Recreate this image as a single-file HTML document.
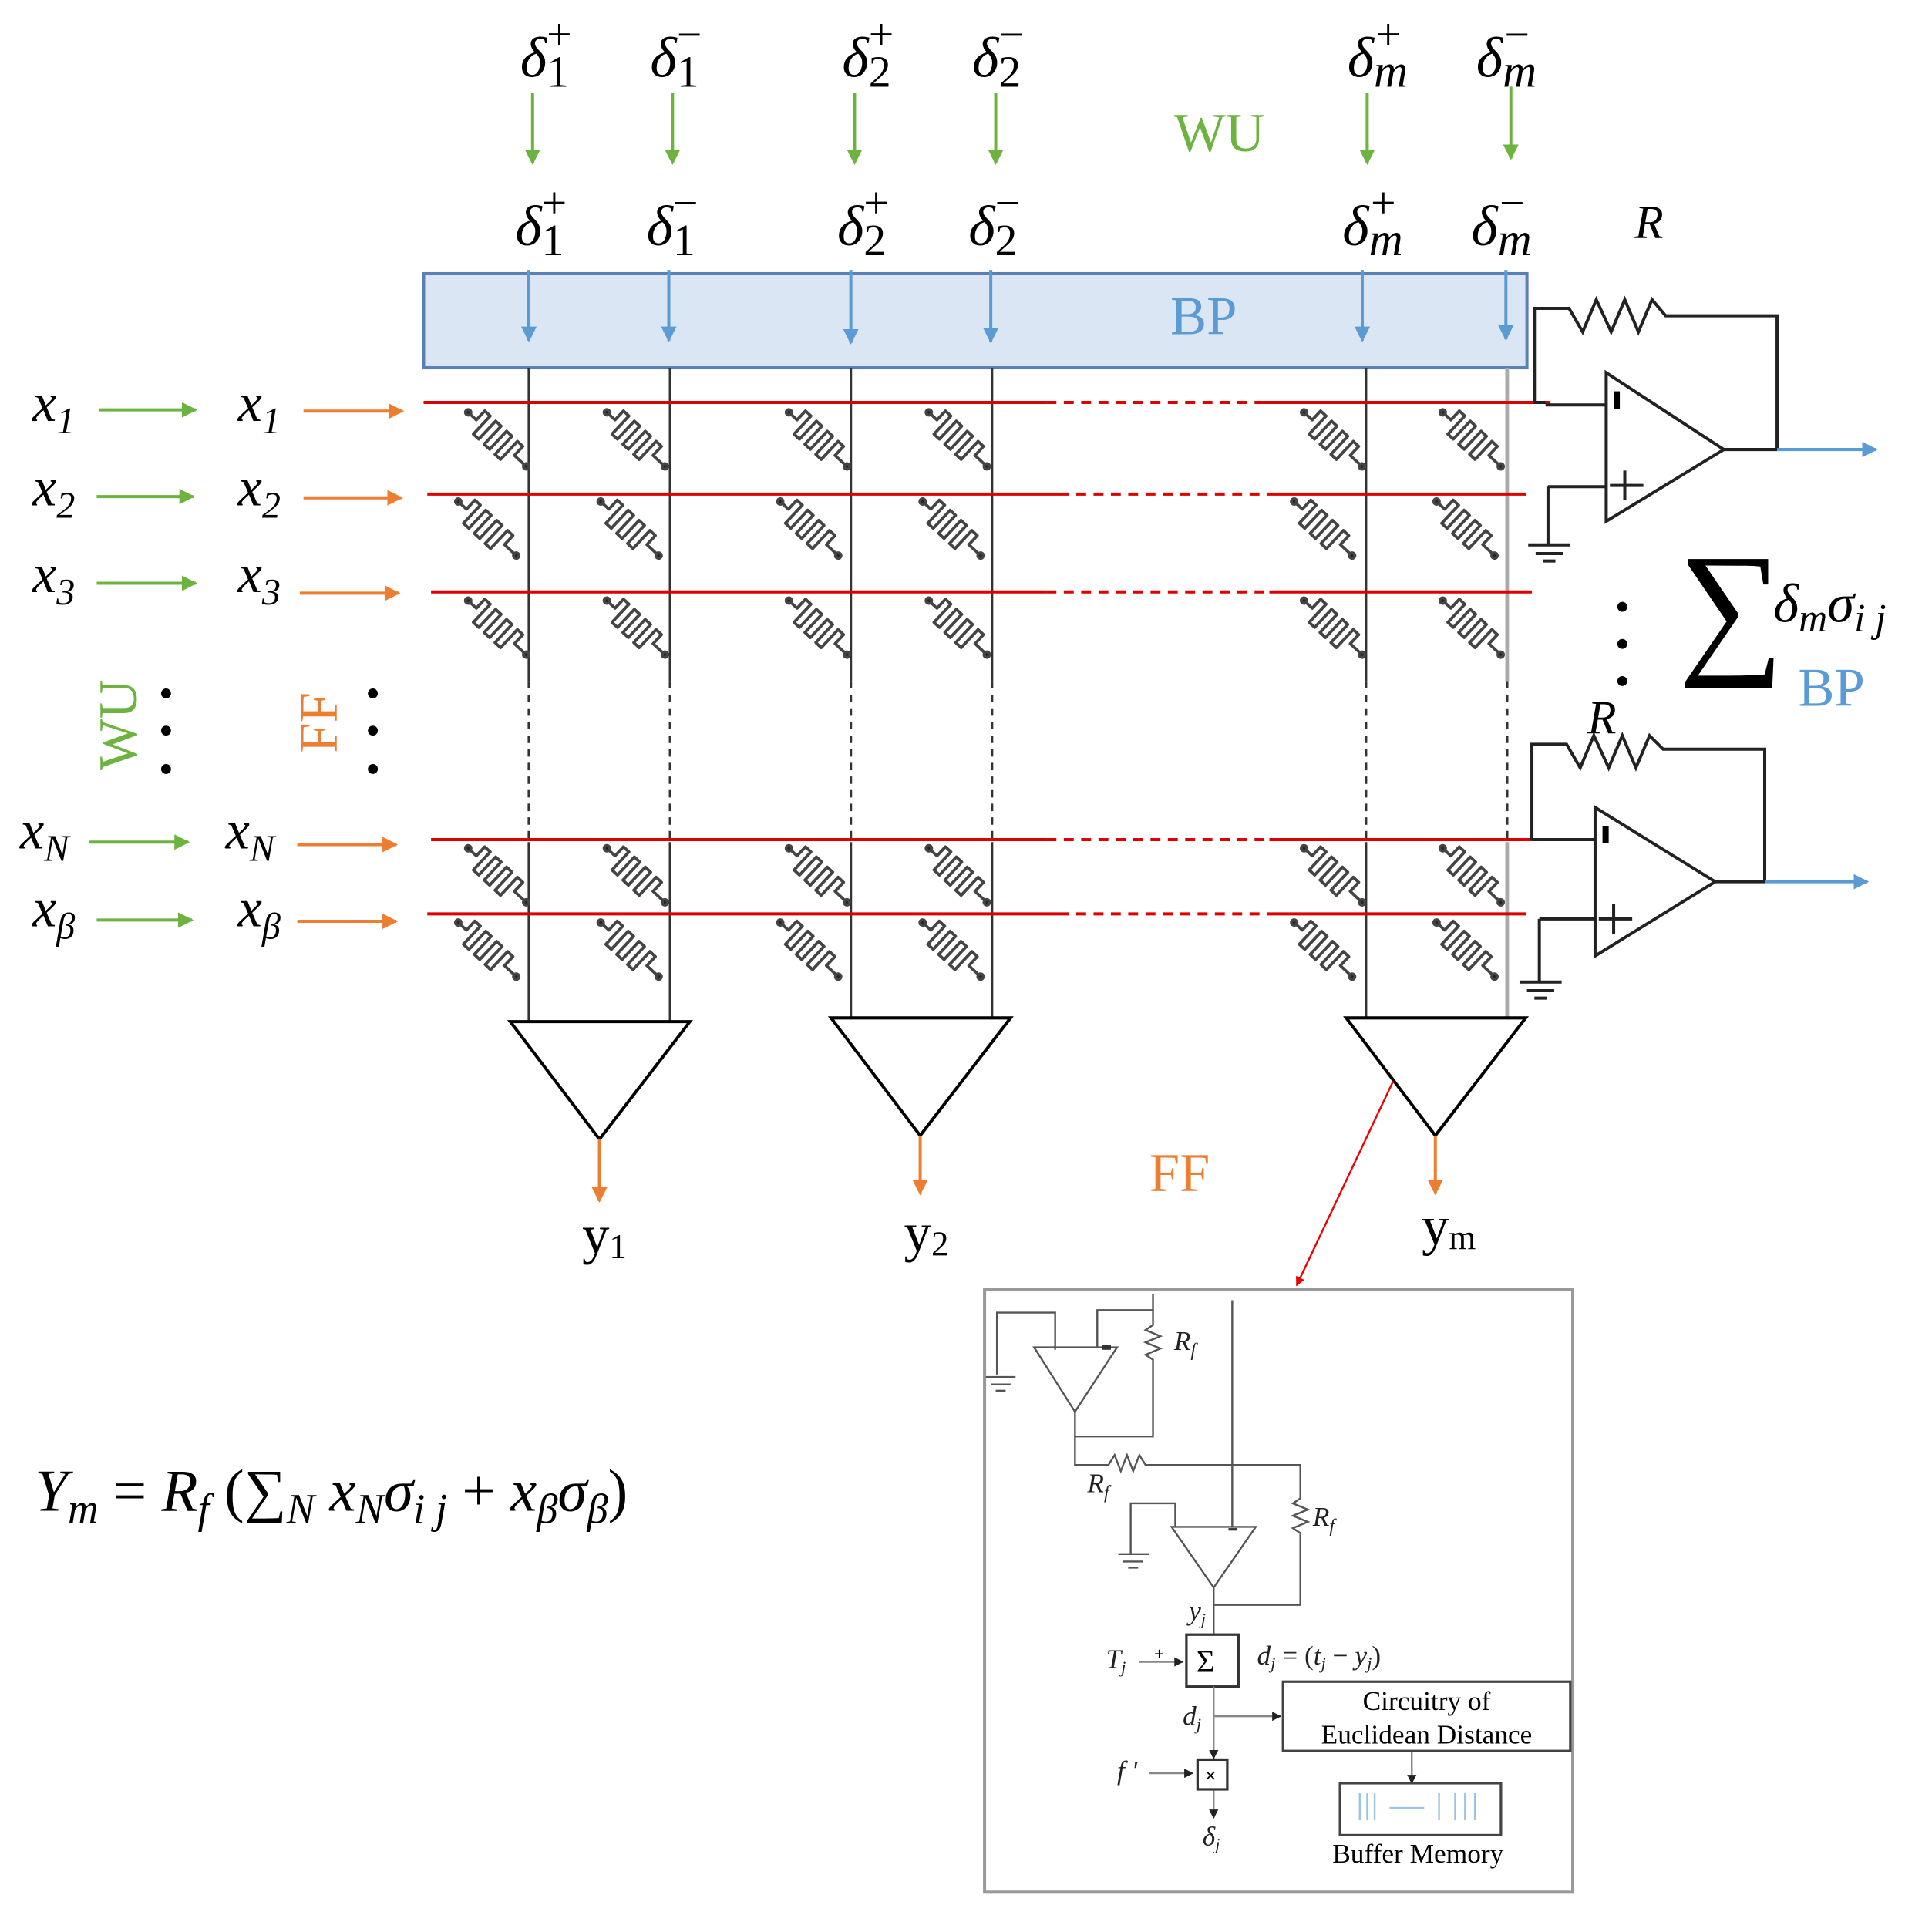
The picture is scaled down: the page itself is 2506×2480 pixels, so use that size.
<!DOCTYPE html>
<html><head><meta charset="utf-8"><style>html,body{margin:0;padding:0;background:#fff}svg{display:block}</style></head>
<body>
<svg width="2506" height="2480" viewBox="0 0 1560 1544" xmlns="http://www.w3.org/2000/svg" font-family="'Liberation Serif', serif">
<defs>
<marker id="ag" viewBox="0 0 10 10" refX="9" refY="5" markerWidth="5" markerHeight="5" orient="auto"><path d="M0,0L10,5L0,10z" fill="#6db33f"/></marker>
<marker id="ao" viewBox="0 0 10 10" refX="9" refY="5" markerWidth="5" markerHeight="5" orient="auto"><path d="M0,0L10,5L0,10z" fill="#ed7d31"/></marker>
<marker id="ab" viewBox="0 0 10 10" refX="9" refY="5" markerWidth="5" markerHeight="5" orient="auto"><path d="M0,0L10,5L0,10z" fill="#5b9bd5"/></marker>
<marker id="ak" viewBox="0 0 10 10" refX="9" refY="5" markerWidth="5" markerHeight="5" orient="auto"><path d="M0,0L10,5L0,10z" fill="#222"/></marker>
<marker id="ar" viewBox="0 0 10 10" refX="9" refY="5" markerWidth="5" markerHeight="5" orient="auto"><path d="M0,0L10,5L0,10z" fill="#e00"/></marker>
<g id="m" fill="none" stroke="#444" stroke-width="2.4" stroke-linejoin="round">
<path d="M0,0 L9,0 L9,-10 L15,-10 L15,10 L21,10 L21,-10 L27,-10 L27,10 L33,10 L33,-10 L39,-10 L39,10 L45,10 L45,-10 L51,-10 L51,0 L64,0"/>
<circle cx="0" cy="0" r="2.2" fill="#222"/><circle cx="64" cy="0" r="2.2" fill="#222"/>
</g>
</defs>

<!-- top deltas -->
<g font-size="46" font-style="italic" fill="#000">
<text x="420" y="62">δ<tspan font-size="36" dy="8" font-style="normal">1</tspan><tspan font-size="36" dy="-30" dx="-18" font-style="normal">+</tspan></text>
<text x="525" y="62">δ<tspan font-size="36" dy="8" font-style="normal">1</tspan><tspan font-size="36" dy="-30" dx="-18" font-style="normal">−</tspan></text>
<text x="680" y="62">δ<tspan font-size="36" dy="8" font-style="normal">2</tspan><tspan font-size="36" dy="-30" dx="-18" font-style="normal">+</tspan></text>
<text x="785" y="62">δ<tspan font-size="36" dy="8" font-style="normal">2</tspan><tspan font-size="36" dy="-30" dx="-18" font-style="normal">−</tspan></text>
<text x="1088" y="62">δ<tspan font-size="38" dy="8">m</tspan><tspan font-size="36" dy="-30" dx="-26" font-style="normal">+</tspan></text>
<text x="1192" y="62">δ<tspan font-size="38" dy="8">m</tspan><tspan font-size="36" dy="-30" dx="-26" font-style="normal">−</tspan></text>

<text x="416" y="198">δ<tspan font-size="36" dy="8" font-style="normal">1</tspan><tspan font-size="36" dy="-30" dx="-18" font-style="normal">+</tspan></text>
<text x="522" y="198">δ<tspan font-size="36" dy="8" font-style="normal">1</tspan><tspan font-size="36" dy="-30" dx="-18" font-style="normal">−</tspan></text>
<text x="676" y="198">δ<tspan font-size="36" dy="8" font-style="normal">2</tspan><tspan font-size="36" dy="-30" dx="-18" font-style="normal">+</tspan></text>
<text x="782" y="198">δ<tspan font-size="36" dy="8" font-style="normal">2</tspan><tspan font-size="36" dy="-30" dx="-18" font-style="normal">−</tspan></text>
<text x="1084" y="198">δ<tspan font-size="38" dy="8">m</tspan><tspan font-size="36" dy="-30" dx="-26" font-style="normal">+</tspan></text>
<text x="1188" y="198">δ<tspan font-size="38" dy="8">m</tspan><tspan font-size="36" dy="-30" dx="-26" font-style="normal">−</tspan></text>
</g>
<g stroke="#6db33f" stroke-width="2.5" marker-end="url(#ag)">
<line x1="430" y1="75" x2="430" y2="132"/><line x1="543" y1="75" x2="543" y2="132"/>
<line x1="690" y1="75" x2="690" y2="132"/><line x1="804" y1="75" x2="804" y2="132"/>
<line x1="1104" y1="75" x2="1104" y2="132"/><line x1="1220" y1="70" x2="1220" y2="128"/>
</g>
<text x="948" y="122" font-size="44" fill="#6db33f">WU</text>

<!-- BP box -->
<rect x="342" y="221" width="891" height="76" fill="#dae6f3" stroke="#5a7fb5" stroke-width="2.5"/>
<text x="945" y="270" font-size="44" fill="#5b9bd5">BP</text>

<!-- column lines -->
<g stroke="#333" stroke-width="2">
<line x1="427" y1="297" x2="427" y2="550"/><line x1="427" y1="680" x2="427" y2="825"/>
<line x1="541" y1="297" x2="541" y2="550"/><line x1="541" y1="680" x2="541" y2="825"/>
<line x1="687" y1="297" x2="687" y2="550"/><line x1="687" y1="680" x2="687" y2="822"/>
<line x1="801" y1="297" x2="801" y2="550"/><line x1="801" y1="680" x2="801" y2="822"/>
<line x1="1103" y1="297" x2="1103" y2="550"/><line x1="1103" y1="680" x2="1103" y2="822"/>
<line x1="1217" y1="297" x2="1217" y2="550" stroke="#aaa" stroke-width="3"/><line x1="1217" y1="680" x2="1217" y2="822" stroke="#aaa" stroke-width="3"/>
<g stroke-dasharray="6,5">
<line x1="427" y1="550" x2="427" y2="680"/><line x1="541" y1="550" x2="541" y2="680"/>
<line x1="687" y1="550" x2="687" y2="680"/><line x1="801" y1="550" x2="801" y2="680"/>
<line x1="1103" y1="550" x2="1103" y2="680"/><line x1="1217" y1="550" x2="1217" y2="680"/>
</g>
</g>
<g stroke="#5b9bd5" stroke-width="2.5" marker-end="url(#ab)">
<line x1="427" y1="218" x2="427" y2="275"/><line x1="540" y1="218" x2="540" y2="275"/>
<line x1="687" y1="218" x2="687" y2="277"/><line x1="800" y1="218" x2="800" y2="276"/>
<line x1="1100" y1="218" x2="1100" y2="275"/><line x1="1216" y1="218" x2="1216" y2="274"/>
</g>

<!-- red rows -->
<g stroke="#d00" stroke-width="2.5">
<line x1="342" y1="325" x2="845" y2="325"/><line x1="1020" y1="325" x2="1252" y2="325"/>
<line x1="345" y1="399" x2="855" y2="399"/><line x1="1025" y1="399" x2="1232" y2="399"/>
<line x1="348" y1="478" x2="845" y2="478"/><line x1="1025" y1="478" x2="1237" y2="478"/>
<line x1="348" y1="678" x2="845" y2="678"/><line x1="1025" y1="678" x2="1237" y2="678"/>
<line x1="345" y1="738" x2="855" y2="738"/><line x1="1025" y1="738" x2="1232" y2="738"/>
<g stroke-dasharray="8,6">
<line x1="845" y1="325" x2="1020" y2="325"/><line x1="855" y1="399" x2="1025" y2="399"/>
<line x1="845" y1="478" x2="1025" y2="478"/><line x1="845" y1="678" x2="1025" y2="678"/>
<line x1="855" y1="738" x2="1025" y2="738"/>
</g>
</g>

<!-- memristors -->
<g>
<use href="#m" transform="translate(378,333) rotate(43)"/><use href="#m" transform="translate(490,333) rotate(43)"/>
<use href="#m" transform="translate(637,333) rotate(43)"/><use href="#m" transform="translate(750,333) rotate(43)"/>
<use href="#m" transform="translate(1053,333) rotate(43)"/><use href="#m" transform="translate(1165,333) rotate(43)"/>
<use href="#m" transform="translate(370,405) rotate(43)"/><use href="#m" transform="translate(485,405) rotate(43)"/>
<use href="#m" transform="translate(630,405) rotate(43)"/><use href="#m" transform="translate(745,405) rotate(43)"/>
<use href="#m" transform="translate(1045,405) rotate(43)"/><use href="#m" transform="translate(1160,405) rotate(43)"/>
<use href="#m" transform="translate(378,485) rotate(43)"/><use href="#m" transform="translate(490,485) rotate(43)"/>
<use href="#m" transform="translate(637,485) rotate(43)"/><use href="#m" transform="translate(750,485) rotate(43)"/>
<use href="#m" transform="translate(1053,485) rotate(43)"/><use href="#m" transform="translate(1165,485) rotate(43)"/>
<use href="#m" transform="translate(378,685) rotate(43)"/><use href="#m" transform="translate(490,685) rotate(43)"/>
<use href="#m" transform="translate(637,685) rotate(43)"/><use href="#m" transform="translate(750,685) rotate(43)"/>
<use href="#m" transform="translate(1053,685) rotate(43)"/><use href="#m" transform="translate(1165,685) rotate(43)"/>
<use href="#m" transform="translate(370,745) rotate(43)"/><use href="#m" transform="translate(485,745) rotate(43)"/>
<use href="#m" transform="translate(630,745) rotate(43)"/><use href="#m" transform="translate(745,745) rotate(43)"/>
<use href="#m" transform="translate(1045,745) rotate(43)"/><use href="#m" transform="translate(1160,745) rotate(43)"/>
</g>

<!-- left inputs -->
<g font-size="44" font-style="italic">
<text x="26" y="340">x<tspan font-size="30" dy="10">1</tspan></text>
<text x="26" y="408">x<tspan font-size="30" dy="10">2</tspan></text>
<text x="26" y="478">x<tspan font-size="30" dy="10">3</tspan></text>
<text x="16" y="685">x<tspan font-size="30" dy="10">N</tspan></text>
<text x="26" y="748">x<tspan font-size="30" dy="10">β</tspan></text>
<text x="192" y="340">x<tspan font-size="30" dy="10">1</tspan></text>
<text x="192" y="408">x<tspan font-size="30" dy="10">2</tspan></text>
<text x="192" y="478">x<tspan font-size="30" dy="10">3</tspan></text>
<text x="182" y="685">x<tspan font-size="30" dy="10">N</tspan></text>
<text x="192" y="748">x<tspan font-size="30" dy="10">β</tspan></text>
</g>
<g stroke="#6db33f" stroke-width="2.5" marker-end="url(#ag)">
<line x1="80" y1="331" x2="158" y2="331"/><line x1="78" y1="401" x2="156" y2="401"/>
<line x1="78" y1="471" x2="158" y2="471"/><line x1="72" y1="680" x2="152" y2="680"/>
<line x1="78" y1="743" x2="155" y2="743"/>
</g>
<g stroke="#ed7d31" stroke-width="2.5" marker-end="url(#ao)">
<line x1="245" y1="332" x2="325" y2="332"/><line x1="245" y1="402" x2="324" y2="402"/>
<line x1="242" y1="479" x2="322" y2="479"/><line x1="240" y1="682" x2="320" y2="682"/>
<line x1="240" y1="744" x2="320" y2="744"/>
</g>
<text transform="translate(110,622) rotate(-90)" font-size="44" fill="#6db33f">WU</text>
<text transform="translate(272,608) rotate(-90)" font-size="44" fill="#ed7d31">FF</text>
<g fill="#000">
<circle cx="134" cy="560" r="4"/><circle cx="134" cy="590" r="4"/><circle cx="134" cy="621" r="4"/>
<circle cx="301" cy="560" r="4"/><circle cx="301" cy="590" r="4"/><circle cx="301" cy="621" r="4"/>
<circle cx="1310" cy="490" r="4"/><circle cx="1310" cy="520" r="4"/><circle cx="1310" cy="550" r="4"/>
</g>

<!-- output buffers -->
<g fill="none" stroke="#000" stroke-width="2.5">
<path d="M412,825 L557,825 L484,920 Z"/>
<path d="M671,822 L816,822 L743,917 Z"/>
<path d="M1087,822 L1232,822 L1159,917 Z"/>
</g>
<g stroke="#ed7d31" stroke-width="2.5" marker-end="url(#ao)">
<line x1="484" y1="920" x2="484" y2="970"/><line x1="743" y1="917" x2="743" y2="964"/><line x1="1159" y1="917" x2="1159" y2="964"/>
</g>
<g font-size="44">
<text x="470" y="1012">y<tspan font-size="28" dy="4">1</tspan></text>
<text x="730" y="1010">y<tspan font-size="28" dy="4">2</tspan></text>
<text x="1148" y="1005">y<tspan font-size="28" dy="4">m</tspan></text>
</g>
<text x="928" y="962" font-size="44" fill="#ed7d31">FF</text>

<!-- opamp 1 -->
<text x="1320" y="192" font-size="38" font-style="italic">R</text>
<g fill="none" stroke="#222" stroke-width="2.5">
<path d="M1248,325 H1239 V249 H1267 L1278,268 L1289,242 L1301,268 L1312,242 L1323,268 L1334,242 L1345,255 H1435 V363"/>
<path d="M1248,327 H1297"/>
<path d="M1297,301 L1297,421 L1392,363 Z"/>
<path d="M1392,363 H1435"/>
<path d="M1250,393 H1297 M1250,393 V440 M1234,440 H1268 M1240,447 H1262 M1246,453 H1256"/>
<path d="M1300,392 H1327 M1312,380 V404"/>
</g>
<rect x="1303" y="316" width="5" height="14" fill="#000"/>
<line x1="1435" y1="363" x2="1515" y2="363" stroke="#5b9bd5" stroke-width="2.5" marker-end="url(#ab)"/>

<!-- opamp 2 -->
<text x="1282" y="592" font-size="38" font-style="italic">R</text>
<g fill="none" stroke="#222" stroke-width="2.5">
<path d="M1237,678 V601 H1265 L1276,620 L1287,594 L1299,620 L1310,594 L1321,620 L1332,594 L1343,605 H1425 V712"/>
<path d="M1237,678 H1288"/>
<path d="M1288,652 L1288,772 L1385,712 Z"/>
<path d="M1385,712 H1425"/>
<path d="M1243,742 H1288 M1243,742 V793 M1227,793 H1261 M1233,800 H1255 M1239,806 H1249"/>
<path d="M1291,742 H1318 M1303,730 V754"/>
</g>
<rect x="1294" y="667" width="5" height="14" fill="#000"/>
<line x1="1425" y1="712" x2="1508" y2="712" stroke="#5b9bd5" stroke-width="2.5" marker-end="url(#ab)"/>

<!-- sum -->
<text x="1355" y="530" font-size="120">∑</text>
<text x="1432" y="502" font-size="44" font-style="italic">δ<tspan font-size="32" dy="8">m</tspan><tspan dy="-8">σ</tspan><tspan font-size="32" dy="8">i j</tspan></text>
<text x="1452" y="570" font-size="44" fill="#5b9bd5">BP</text>

<!-- formula -->
<text x="28" y="1220" font-size="48" font-style="italic">Y<tspan font-size="34" dy="10">m</tspan><tspan dy="-10" font-style="normal"> = </tspan>R<tspan font-size="34" dy="10">f</tspan><tspan dy="-10" font-style="normal"> (∑</tspan><tspan font-size="34" dy="10">N</tspan><tspan dy="-10"> x</tspan><tspan font-size="34" dy="10">N</tspan><tspan dy="-10">σ</tspan><tspan font-size="34" dy="10">i j</tspan><tspan dy="-10" font-style="normal"> + </tspan>x<tspan font-size="34" dy="10">β</tspan><tspan dy="-10">σ</tspan><tspan font-size="34" dy="10">β</tspan><tspan dy="-10" font-style="normal">)</tspan></text>

<!-- red pointer -->
<line x1="1125" y1="873" x2="1047" y2="1038" stroke="#e00" stroke-width="1.5" marker-end="url(#ar)"/>

<!-- inset -->
<rect x="795" y="1041" width="475" height="487" fill="#fff" stroke="#999" stroke-width="2.5"/>
<g fill="none" stroke="#555" stroke-width="1.5">
<path d="M805,1110 V1060 H852 V1090"/>
<path d="M796,1112 H820 M800,1118 H816 M804,1123 H812"/>
<path d="M835,1088 H902 L868,1140 Z"/>
<path d="M886,1088 V1058 H931 V1045"/>
<path d="M931,1058 V1070 L925,1074 L937,1079 L925,1084 L937,1089 L925,1094 L931,1098 V1160 H868 V1140"/>
<path d="M868,1160 V1183 H895 L900,1175 L905,1188 L910,1175 L915,1188 L920,1175 L925,1183 H1050 V1210 L1044,1214 L1056,1219 L1044,1224 L1056,1229 L1044,1234 L1050,1238 V1296 H980"/>
<path d="M995,1050 V1233"/>
<path d="M913,1255 V1214 H949 V1233"/>
<path d="M903,1255 H928 M907,1261 H923 M911,1266 H919"/>
<path d="M946,1233 H1014 L980,1282 Z"/>
<path d="M980,1282 V1320"/>
</g>
<rect x="890" y="1086" width="7" height="4" fill="#333"/>
<rect x="992" y="1234" width="7" height="2" fill="#333"/>
<g font-size="22" font-style="italic" fill="#222">
<text x="948" y="1090">R<tspan font-size="15" dy="5">f</tspan></text>
<text x="878" y="1205">R<tspan font-size="15" dy="5">f</tspan></text>
<text x="1060" y="1232">R<tspan font-size="15" dy="5">f</tspan></text>
<text x="960" y="1308">y<tspan font-size="14" dy="4">j</tspan></text>
<text x="893" y="1347">T<tspan font-size="14" dy="4">j</tspan></text>
<text x="1015" y="1344">d<tspan font-size="14" dy="4">j</tspan><tspan dy="-4" font-style="normal"> = (</tspan>t<tspan font-size="14" dy="4">j</tspan><tspan dy="-4" font-style="normal"> − </tspan>y<tspan font-size="14" dy="4">j</tspan><tspan dy="-4" font-style="normal">)</tspan></text>
<text x="955" y="1393">d<tspan font-size="14" dy="4">j</tspan></text>
<text x="902" y="1437">f ′</text>
<text x="971" y="1490">δ<tspan font-size="14" dy="4">j</tspan></text>
</g>
<rect x="958" y="1320" width="42" height="42" fill="#fff" stroke="#333" stroke-width="2"/>
<text x="966" y="1350" font-size="26">Σ</text>
<g stroke="#888" stroke-width="1.5" fill="none">
<path d="M920,1342 H955" marker-end="url(#ak)"/>
<path d="M980,1362 V1420" marker-end="url(#ak)"/>
<path d="M980,1386 H1034" marker-end="url(#ak)"/>
<path d="M928,1432 H963" marker-end="url(#ak)"/>
<path d="M980,1446 V1468" marker-end="url(#ak)"/>
<path d="M1140,1413 V1440" marker-end="url(#ak)"/>
</g>
<text x="932" y="1340" font-size="14">+</text>
<rect x="967" y="1421" width="24" height="24" fill="#fff" stroke="#333" stroke-width="2"/>
<text x="973" y="1439" font-size="16" font-weight="bold">×</text>
<rect x="1036" y="1358" width="232" height="56" fill="#fff" stroke="#444" stroke-width="2"/>
<text x="1152" y="1381" font-size="22" text-anchor="middle">Circuitry of</text>
<text x="1152" y="1408" font-size="22" text-anchor="middle">Euclidean Distance</text>
<rect x="1082" y="1440" width="130" height="42" fill="#fff" stroke="#444" stroke-width="2"/>
<g stroke="#9cc3e6" stroke-width="1.5">
<path d="M1098,1448 V1470 M1104,1448 V1470 M1110,1448 V1470 M1122,1460 H1150 M1162,1448 V1470 M1175,1448 V1470 M1183,1448 V1470 M1191,1448 V1470"/>
</g>
<text x="1145" y="1504" font-size="22" text-anchor="middle">Buffer Memory</text>
</svg>
</body></html>
